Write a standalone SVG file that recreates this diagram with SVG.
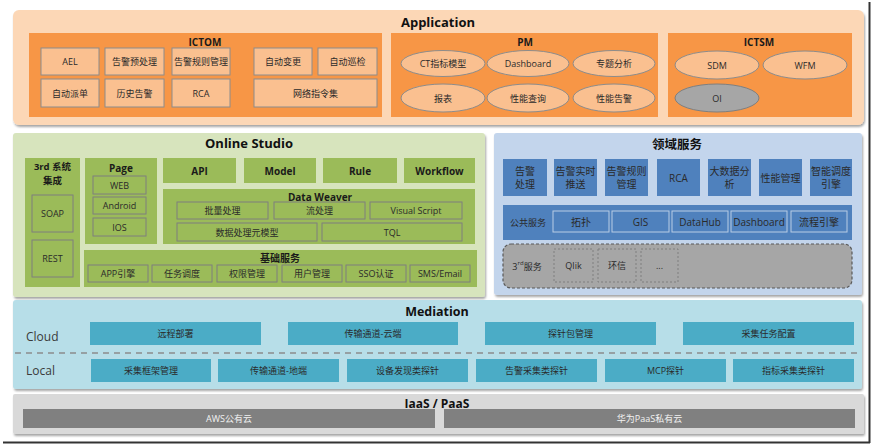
<svg xmlns="http://www.w3.org/2000/svg" width="874" height="446" viewBox="0 0 874 446">
<defs>
<filter id="sh" x="-2%" y="-5%" width="104%" height="115%"><feDropShadow dx="1" dy="2" stdDeviation="1" flood-color="#000" flood-opacity="0.35"/></filter>
</defs>
<style>
text{font-family:"Open Sans","Noto Sans CJK SC",sans-serif;text-anchor:middle;dominant-baseline:central;fill:#2a2a2a;font-size:9px}
.t{font-weight:bold;font-size:13px;fill:#111}
.st{font-weight:bold;font-size:10px;fill:#1a1a1a}
.lbl{font-size:12px;text-anchor:start;fill:#3a3a3a}
.panel{filter:url(#sh)}
.or{fill:#F79646}
.oi{fill:#FAC090;stroke:#8C8C8C;stroke-width:1}
.oe{fill:#FAC090;stroke:#8C8C8C;stroke-width:1}
.ge{fill:#A6A6A6;stroke:#7F7F7F;stroke-width:1}
.g{fill:#9BBB59}
.gi{fill:#9BBB59;stroke:#7F7F7F;stroke-width:1}
.b{fill:#4F81BD}
.bi{fill:#4F81BD;stroke:#B9CDE5;stroke-width:1}
.b10{font-size:10px}
.tl{fill:#4BACC6}
.dk{fill:#808080}
.wt{fill:#f2f2f2}
.gd{fill:#A6A6A6;stroke:#595959;stroke-width:1.2;stroke-dasharray:3 2}
.gdi{fill:none;stroke:#7F7F7F;stroke-width:1;stroke-dasharray:2 2}
</style>

<g id="frame">
<line x1="869.5" y1="2" x2="869.5" y2="443" stroke="#333" stroke-width="2"/>
<line x1="3" y1="442.5" x2="870" y2="442.5" stroke="#333" stroke-width="2"/>
</g>

<g id="application">
<rect class="panel" x="13" y="10" width="851" height="115" rx="6" fill="#FCD7B6"/>
<text class="t" x="438" y="22">Application</text>
</g>
<g id="ictom">
<rect class="or" x="29" y="33" width="353" height="84"/>
<text class="st" x="205" y="42">ICTOM</text>
<g id="ael"><rect class="oi" x="41" y="48" width="58" height="27"/><text x="70" y="61.5">AEL</text></g>
<g id="alarm-pre"><rect class="oi" x="105" y="48" width="59" height="27"/><text x="134.5" y="61.5">告警预处理</text></g>
<g id="alarm-rule"><rect class="oi" x="172" y="48" width="58" height="27"/><text x="201" y="61.5">告警规则管理</text></g>
<g id="auto-change"><rect class="oi" x="254" y="48" width="58" height="27"/><text x="283" y="61.5">自动变更</text></g>
<g id="auto-inspect"><rect class="oi" x="318" y="48" width="59" height="27"/><text x="347.5" y="61.5">自动巡检</text></g>
<g id="auto-dispatch"><rect class="oi" x="41" y="79" width="58" height="28"/><text x="70" y="93">自动派单</text></g>
<g id="hist-alarm"><rect class="oi" x="105" y="79" width="59" height="28"/><text x="134.5" y="93">历史告警</text></g>
<g id="rca-app"><rect class="oi" x="172" y="79" width="58" height="28"/><text x="201" y="93">RCA</text></g>
<g id="net-cmd"><rect class="oi" x="254" y="79" width="123" height="28"/><text x="315.5" y="93">网络指令集</text></g>
</g>
<g id="pm">
<rect class="or" x="391" y="33" width="267" height="84"/>
<text class="st" x="525" y="42">PM</text>
<g id="ct-model"><ellipse class="oe" cx="443" cy="63.5" rx="42" ry="13"/><text x="443" y="63.5">CT指标模型</text></g>
<g id="pm-dashboard"><ellipse class="oe" cx="528" cy="63.5" rx="41" ry="13"/><text x="528" y="63.5">Dashboard</text></g>
<g id="topic"><ellipse class="oe" cx="614" cy="63.5" rx="41" ry="13"/><text x="614" y="63.5">专题分析</text></g>
<g id="report"><ellipse class="oe" cx="443" cy="98" rx="42" ry="14"/><text x="443" y="98">报表</text></g>
<g id="perf-query"><ellipse class="oe" cx="528" cy="98" rx="41" ry="14"/><text x="528" y="98">性能查询</text></g>
<g id="perf-alarm"><ellipse class="oe" cx="614" cy="98" rx="41" ry="14"/><text x="614" y="98">性能告警</text></g>
</g>
<g id="ictsm">
<rect class="or" x="668" y="33" width="184" height="84"/>
<text class="st" x="759" y="42">ICTSM</text>
<g id="sdm"><ellipse class="oe" cx="717" cy="65" rx="42" ry="14"/><text x="717" y="65">SDM</text></g>
<g id="wfm"><ellipse class="oe" cx="805" cy="65" rx="42" ry="14"/><text x="805" y="65">WFM</text></g>
<g id="oi"><ellipse class="ge" cx="717" cy="98" rx="42" ry="14"/><text x="717" y="98">OI</text></g>
</g>

<g id="online-studio">
<rect class="panel" x="13" y="133" width="472" height="164" rx="3" fill="#D7E4BD"/>
<text class="t" x="249" y="143">Online Studio</text>
</g>
<g id="third-integration">
<rect class="g" x="25" y="158" width="55" height="129"/>
<text class="st" x="52.5" y="166" style="font-size:9.5px">3rd 系统</text>
<text class="st" x="52.5" y="180" style="font-size:9.5px">集成</text>
<g id="soap"><rect class="gi" x="32" y="195" width="41" height="37"/><text x="52.5" y="213.5">SOAP</text></g>
<g id="rest"><rect class="gi" x="32" y="240" width="41" height="37"/><text x="52.5" y="258.5">REST</text></g>
</g>
<g id="page">
<rect class="g" x="85" y="158" width="72" height="86"/>
<text class="st" x="121" y="168">Page</text>
<g id="web"><rect class="gi" x="93" y="176" width="53" height="18"/><text x="119.5" y="185">WEB</text></g>
<g id="android"><rect class="gi" x="93" y="197" width="53" height="17"/><text x="119.5" y="205.5">Android</text></g>
<g id="ios"><rect class="gi" x="93" y="218" width="53" height="18"/><text x="119.5" y="227">IOS</text></g>
</g>
<g id="api"><rect class="g" x="163" y="158" width="73" height="25"/><text class="st" x="199.5" y="170.5">API</text></g>
<g id="model"><rect class="g" x="244" y="158" width="72" height="25"/><text class="st" x="280" y="170.5">Model</text></g>
<g id="rule"><rect class="g" x="323" y="158" width="74" height="25"/><text class="st" x="360" y="170.5">Rule</text></g>
<g id="workflow"><rect class="g" x="404" y="158" width="71" height="25"/><text class="st" x="439.5" y="170.5">Workflow</text></g>
<g id="data-weaver">
<rect class="g" x="163" y="189" width="312" height="55"/>
<text class="st" x="320" y="197">Data Weaver</text>
<g id="batch"><rect class="gi" x="177" y="202" width="91" height="17"/><text x="222.5" y="210.5">批量处理</text></g>
<g id="stream"><rect class="gi" x="274" y="202" width="91" height="17"/><text x="319.5" y="210.5">流处理</text></g>
<g id="visual-script"><rect class="gi" x="370" y="202" width="92" height="17"/><text x="416" y="210.5">Visual Script</text></g>
<g id="meta-model"><rect class="gi" x="177" y="223" width="140" height="18"/><text x="247" y="232">数据处理元模型</text></g>
<g id="tql"><rect class="gi" x="322" y="223" width="140" height="18"/><text x="392" y="232">TQL</text></g>
</g>
<g id="base-service">
<rect class="g" x="84" y="250" width="393" height="37"/>
<text class="st" x="280" y="258">基础服务</text>
<g id="app-engine"><rect class="gi" x="88" y="265" width="60" height="17"/><text x="118" y="273.5">APP引擎</text></g>
<g id="task-sched"><rect class="gi" x="152" y="265" width="60" height="17"/><text x="182" y="273.5">任务调度</text></g>
<g id="perm"><rect class="gi" x="217" y="265" width="60" height="17"/><text x="247" y="273.5">权限管理</text></g>
<g id="user-mgmt"><rect class="gi" x="282" y="265" width="60" height="17"/><text x="312" y="273.5">用户管理</text></g>
<g id="sso"><rect class="gi" x="346" y="265" width="60" height="17"/><text x="376" y="273.5">SSO认证</text></g>
<g id="sms"><rect class="gi" x="410" y="265" width="60" height="17"/><text x="440" y="273.5">SMS/Email</text></g>
</g>

<g id="domain-service">
<rect class="panel" x="494" y="133" width="368" height="162" rx="3" fill="#C3D5EC"/>
<text class="t" x="677" y="144" style="font-size:12.5px">领域服务</text>
<g id="d-alarm"><rect class="b" x="503" y="159" width="44" height="37"/><text class="b10" x="525" y="171">告警</text><text class="b10" x="525" y="184">处理</text></g>
<g id="d-push"><rect class="b" x="554" y="159" width="43" height="37"/><text class="b10" x="575.5" y="171">告警实时</text><text class="b10" x="575.5" y="184">推送</text></g>
<g id="d-rule"><rect class="b" x="605" y="159" width="43" height="37"/><text class="b10" x="626.5" y="171">告警规则</text><text class="b10" x="626.5" y="184">管理</text></g>
<g id="d-rca"><rect class="b" x="657" y="159" width="43" height="37"/><text class="b10" x="678.5" y="177.5">RCA</text></g>
<g id="d-bigdata"><rect class="b" x="708" y="159" width="43" height="37"/><text class="b10" x="729.5" y="171">大数据分</text><text class="b10" x="729.5" y="184">析</text></g>
<g id="d-perf"><rect class="b" x="759" y="159" width="43" height="37"/><text class="b10" x="780.5" y="177.5">性能管理</text></g>
<g id="d-sched"><rect class="b" x="810" y="159" width="42" height="37"/><text class="b10" x="831" y="171">智能调度</text><text class="b10" x="831" y="184">引擎</text></g>
</g>
<g id="public-service">
<rect class="b" x="503" y="205" width="349" height="35"/>
<text x="528" y="222.5">公共服务</text>
<g id="topo"><rect class="bi" x="553" y="211" width="56" height="21"/><text class="b10" x="581" y="221.5">拓扑</text></g>
<g id="gis"><rect class="bi" x="612" y="211" width="57" height="21"/><text class="b10" x="640.5" y="221.5">GIS</text></g>
<g id="datahub"><rect class="bi" x="672" y="211" width="56" height="21"/><text class="b10" x="700" y="221.5">DataHub</text></g>
<g id="dashboard2"><rect class="bi" x="731" y="211" width="56" height="21"/><text class="b10" x="759" y="221.5">Dashboard</text></g>
<g id="flow-engine"><rect class="bi" x="791" y="211" width="56" height="21"/><text class="b10" x="819" y="221.5">流程引擎</text></g>
</g>
<g id="third-service">
<rect class="gd" x="503" y="244" width="349" height="44" rx="8"/>
<text x="527" y="266">3<tspan font-size="6" dy="-3">rd</tspan><tspan dy="3">服务</tspan></text>
<g id="qlik"><rect class="gdi" x="554" y="249" width="39" height="33"/><text x="573.5" y="265.5">Qlik</text></g>
<g id="huanxin"><rect class="gdi" x="598" y="249" width="38" height="33"/><text x="617" y="265.5">环信</text></g>
<g id="more"><rect class="gdi" x="641" y="249" width="37" height="33"/><text x="659.5" y="265.5">...</text></g>
</g>

<g id="mediation">
<rect class="panel" x="13" y="300" width="849" height="89" rx="3" fill="#B7DEE8"/>
<text class="t" x="437" y="311" style="font-size:12.5px">Mediation</text>
<text class="lbl" x="26" y="336">Cloud</text>
<text class="lbl" x="26" y="370">Local</text>
<line x1="15" y1="353" x2="858" y2="353" stroke="#8C8C8C" stroke-width="1.5" stroke-dasharray="6 5"/>
<g id="remote-deploy"><rect class="tl" x="90" y="322" width="171" height="23"/><text x="175.5" y="333.5">远程部署</text></g>
<g id="trans-cloud"><rect class="tl" x="288" y="322" width="170" height="23"/><text x="373" y="333.5">传输通道-云端</text></g>
<g id="probe-pkg"><rect class="tl" x="485" y="322" width="171" height="23"/><text x="570.5" y="333.5">探针包管理</text></g>
<g id="task-config"><rect class="tl" x="683" y="322" width="171" height="23"/><text x="768.5" y="333.5">采集任务配置</text></g>
<g id="frame-mgmt"><rect class="tl" x="91" y="359" width="120" height="23"/><text x="151" y="370.5">采集框架管理</text></g>
<g id="trans-local"><rect class="tl" x="218" y="359" width="121" height="23"/><text x="278.5" y="370.5">传输通道-地端</text></g>
<g id="dev-probe"><rect class="tl" x="347" y="359" width="121" height="23"/><text x="407.5" y="370.5">设备发现类探针</text></g>
<g id="alarm-probe"><rect class="tl" x="476" y="359" width="121" height="23"/><text x="536.5" y="370.5">告警采集类探针</text></g>
<g id="mcp-probe"><rect class="tl" x="605" y="359" width="121" height="23"/><text x="665.5" y="370.5">MCP探针</text></g>
<g id="kpi-probe"><rect class="tl" x="733" y="359" width="121" height="23"/><text x="793.5" y="370.5">指标采集类探针</text></g>
</g>

<g id="iaas">
<rect class="panel" x="13" y="394" width="851" height="40" rx="2" fill="#D9D9D9"/>
<text class="t" x="437" y="403" style="font-size:12px">IaaS / PaaS</text>
<g id="aws"><rect class="dk" x="23" y="409" width="412" height="19"/><text class="wt" x="229" y="418.5">AWS公有云</text></g>
<g id="huawei"><rect class="dk" x="444" y="409" width="411" height="19"/><text class="wt" x="649.5" y="418.5">华为PaaS私有云</text></g>
</g>
</svg>
